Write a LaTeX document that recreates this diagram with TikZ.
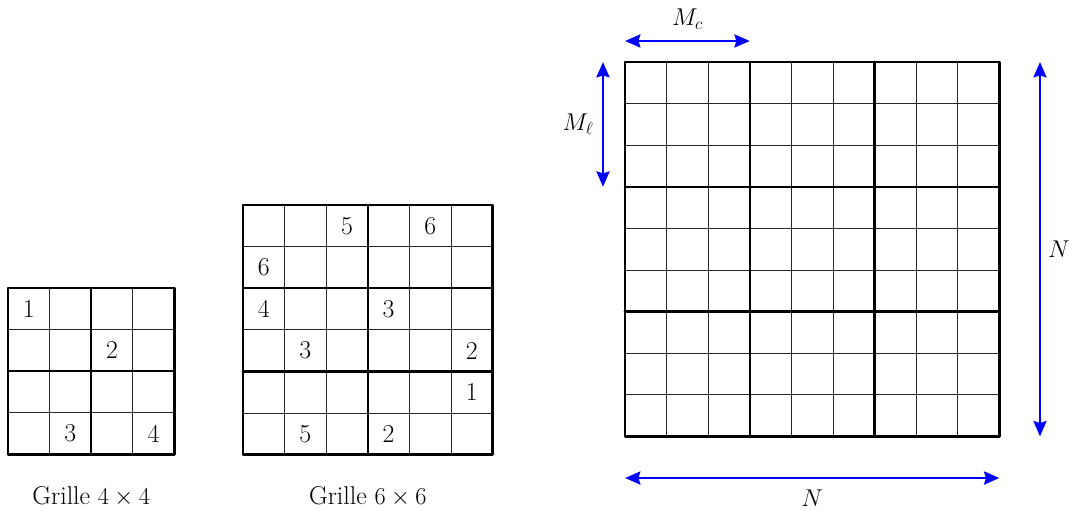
\documentclass[tikz,border=0pt]{standalone}
\usetikzlibrary{arrows.meta}
\begin{document}
\begin{tikzpicture}[x=0.03cm,y=-0.03cm,
  thin line/.style={line width=0.75pt,black!85},
  thick line/.style={line width=2.2pt,black,line cap=round,line join=round},
  digit/.style={font=\fontsize{22}{26}\selectfont,inner sep=0pt},
  caption/.style={font=\fontsize{22}{26}\selectfont,inner sep=0pt},
  dim/.style={blue,line width=2.4pt,{Stealth[length=13pt,width=11pt,inset=1.5pt]}-{Stealth[length=13pt,width=11pt,inset=1.5pt]}},
  dimlabel/.style={font=\fontsize{22}{26}\selectfont,inner sep=0pt}]
\useasboundingbox (0,0) rectangle (1072,511);
\def\cs{41.6}
% ---------- grid 4x4 ----------
\begin{scope}[shift={(8,288)}]
  \foreach \i in {1,3} {
    \draw[thin line] (\i*\cs,0) -- (\i*\cs,4*\cs);
    \draw[thin line] (0,\i*\cs) -- (4*\cs,\i*\cs);
  }
  \draw[thick line] (2*\cs,0) -- (2*\cs,4*\cs);
  \draw[thick line] (0,2*\cs) -- (4*\cs,2*\cs);
  \draw[thick line] (0,0) rectangle (4*\cs,4*\cs);
  \foreach \r/\c/\v [count=\k] in {0/0/1,1/2/2,3/1/3,3/3/4}
    \node[digit] (a\k) at ({(\c+0.5)*\cs},{(\r+0.5)*\cs}) {\v};
  \node[caption] (capA) at (2*\cs,209) {Grille $4\times4$};
\end{scope}
% ---------- grid 6x6 ----------
\begin{scope}[shift={(243,205)}]
  \foreach \i in {1,2,4,5} \draw[thin line] (\i*\cs,0) -- (\i*\cs,6*\cs);
  \foreach \i in {1,3,5} \draw[thin line] (0,\i*\cs) -- (6*\cs,\i*\cs);
  \draw[thick line] (3*\cs,0) -- (3*\cs,6*\cs);
  \foreach \i in {2,4} \draw[thick line] (0,\i*\cs) -- (6*\cs,\i*\cs);
  \draw[thick line] (0,0) rectangle (6*\cs,6*\cs);
  \foreach \r/\c/\v [count=\k] in {0/2/5,0/4/6,1/0/6,2/0/4,2/3/3,3/1/3,3/5/2,4/5/1,5/1/5,5/3/2}
    \node[digit] (b\k) at ({(\c+0.5)*\cs},{(\r+0.5)*\cs}) {\v};
  \node[caption] (capB) at (3*\cs,292) {Grille $6\times6$};
\end{scope}
% ---------- grid 9x9 ----------
\begin{scope}[shift={(625,62)}]
  \foreach \i in {1,2,4,5,7,8} {
    \draw[thin line] (\i*\cs,0) -- (\i*\cs,9*\cs);
    \draw[thin line] (0,\i*\cs) -- (9*\cs,\i*\cs);
  }
  \foreach \i in {3,6} {
    \draw[thick line] (\i*\cs,0) -- (\i*\cs,9*\cs);
    \draw[thick line] (0,\i*\cs) -- (9*\cs,\i*\cs);
  }
  \draw[thick line] (0,0) rectangle (9*\cs,9*\cs);
  % dimension arrows
  \coordinate (mc1) at (0,-21);
  \coordinate (mc2) at (3*\cs,-21);
  \coordinate (ml1) at (-22,0);
  \coordinate (ml2) at (-22,3*\cs);
  \coordinate (nr1) at (415,0);
  \coordinate (nr2) at (415,9*\cs);
  \coordinate (nb1) at (0,416);
  \coordinate (nb2) at (9*\cs,416);
  \draw[dim] (mc1) -- (mc2);
  \draw[dim] (ml1) -- (ml2);
  \draw[dim] (nr1) -- (nr2);
  \draw[dim] (nb1) -- (nb2);
  \node[dimlabel] (lmc) at (1.5*\cs,-43) {$M_c$};
  \node[dimlabel] (lml) at (-47,1.5*\cs) {$M_\ell$};
  \node[dimlabel] (lnr) at (434,4.5*\cs) {$N$};
  \node[dimlabel] (lnb) at (4.5*\cs,436) {$N$};
\end{scope}
\end{tikzpicture}
\end{document}
